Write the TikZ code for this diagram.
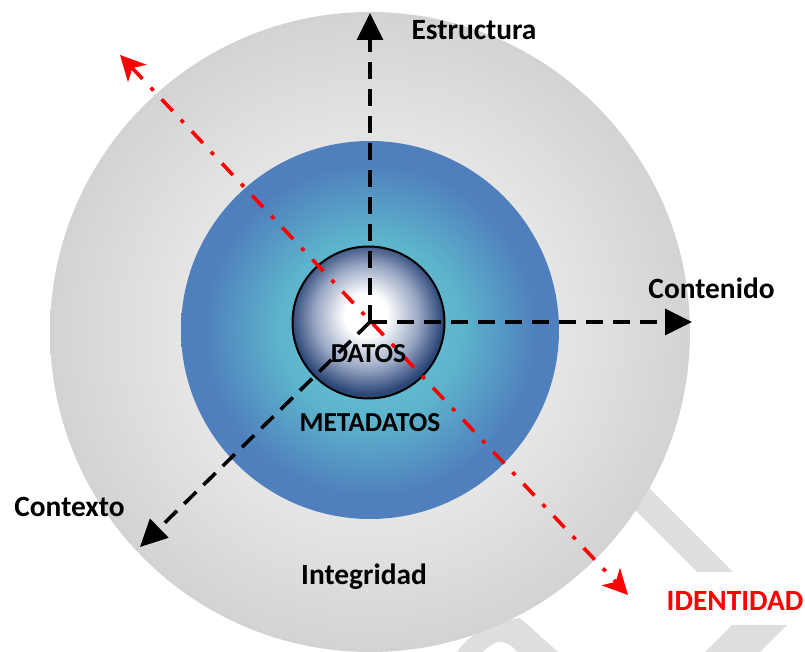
\documentclass[tikz,border=0pt]{standalone}
\usepackage{fontspec}
\setmainfont{Carlito}
\usetikzlibrary{arrows.meta}

\definecolor{ringgray}{HTML}{D3D3D3}
\definecolor{metacyan}{HTML}{66C8D4}
\definecolor{metamid}{HTML}{5DB4CC}
\definecolor{metablue}{HTML}{4F80BD}
\definecolor{datosmid}{HTML}{9AA8C4}
\definecolor{datosnavy}{HTML}{2B4677}
\definecolor{wmark}{HTML}{DEDEDE}
\definecolor{idred}{HTML}{FF0000}

\pgfdeclareradialshading{ringshade}{\pgfpointorigin}{color(0bp)=(white); color(25bp)=(ringgray); color(50bp)=(ringgray)}
\pgfdeclareradialshading{metashade}{\pgfpointorigin}{color(0bp)=(metacyan); color(12bp)=(metamid); color(22bp)=(metablue); color(50bp)=(metablue)}
\pgfdeclareradialshading{datoshade}{\pgfpoint{-1bp}{3bp}}{color(0bp)=(white); color(7bp)=(white); color(17bp)=(datosmid); color(25bp)=(datosnavy); color(50bp)=(datosnavy)}

\begin{document}
\begin{tikzpicture}[x=0.5pt,y=-0.5pt]
\tikzset{lbl/.style = {font=\bfseries\fontsize{14.7}{16}\selectfont, anchor=base}}
\tikzset{inlbl/.style = {font=\bfseries\fontsize{13.7}{15}\selectfont, anchor=base}}
\tikzset{axis/.style = {->, > = {Triangle[length=13.5pt,width=13pt]}, line width=1.8pt, dash pattern=on 8.5pt off 5pt}}
\tikzset{idaxis/.style = {<->, > = {Stealth[length=12.5pt,width=12.5pt,inset=3.5pt]}, idred, line width=1.8pt, dash pattern=on 8pt off 6pt on 2pt off 6pt}}
\tikzset{wm/.style = {fill=wmark}}
\useasboundingbox (0,0) rectangle (805,652);
% watermark
\fill[wm] (597,472) -- (633,472) -- (733,572) -- (697,572) -- cycle;
\fill[wm] (732,625) -- (787,625) -- (760,652) -- (705,652) -- cycle;
\fill[wm] (457,652) .. controls (470,632) and (495,622) .. (520,618) -- (558,652) -- (517,652)
  .. controls (512,644) and (502,641) .. (498,642) .. controls (492,644) and (486,648) .. (483,652) -- cycle;
% circles
\shade[shading=ringshade] (370,332) circle [radius=320];
\shade[shading=metashade] (370,330) circle [radius=189];
\shadedraw[shading=datoshade, line width=1pt] (368.5,322.5) circle [radius=76];
% axes
\coordinate (o) at (370,322);
\coordinate (estr) at (370,13);
\coordinate (cont) at (692,322);
\coordinate (ctx) at (140,547);
\coordinate (idA) at (120,55);
\coordinate (idB) at (628,595);
\draw[idaxis] (idA) -- (idB);
\draw[axis] (o) -- (estr);
\draw[axis] (o) -- (cont);
\draw[axis] (o) -- (ctx);
% labels
\node[lbl] (estrl) at (474,40) {Estructura};
\node[lbl] (contl) at (711.5,299) {Contenido};
\node[lbl] (ctxl) at (69.5,517) {Contexto};
\node[lbl] (integ) at (364,585) {Integridad};
\node[lbl, text=idred] (ident) at (735,611) {IDENTIDAD};
\node[inlbl] (meta) at (370,432) {METADATOS};
\node[inlbl] (datos) at (368.5,362.7) {DATOS};
\end{tikzpicture}
\end{document}
